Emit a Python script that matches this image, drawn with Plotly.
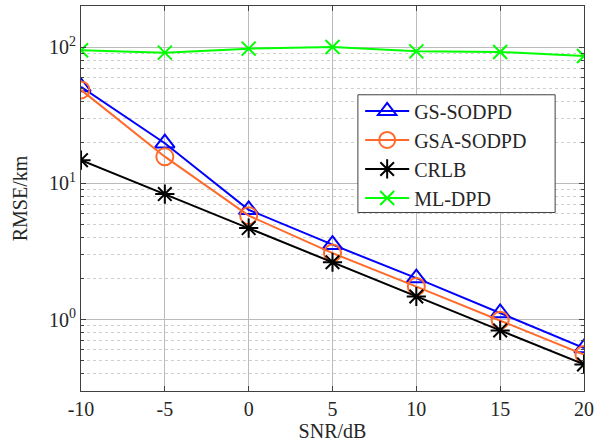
import numpy as np
import plotly.graph_objects as go

snr_db = [-10, -5, 0, 5, 10, 15, 20]
gs_sodpd = [51.0, 19.7, 6.4, 3.55, 2.02, 1.12, 0.62]
gsa_sodpd = [48.5, 15.7, 5.8, 3.08, 1.75, 0.99, 0.555]
crlb = [14.8, 8.35, 4.7, 2.64, 1.48, 0.835, 0.47]
ml_dpd = [94.6, 91.0, 97.3, 100.0, 93.0, 92.0, 86.0]

x_ticks = [-10, -5, 0, 5, 10, 15, 20]
x_ticktext = ["-10", "-5", "0", "5", "10", "15", "20"]
y_ticks = [1, 10, 100]
y_ticktext = ["10<sup>0</sup>", "10<sup>1</sup>", "10<sup>2</sup>"]

FONT = "Liberation Serif"
TEXT_COLOR = "#262626"

series = [
    ("GS-SODPD", gs_sodpd, "#0000FF", "triangle-up-open", 17),
    ("GSA-SODPD", gsa_sodpd, "#FF6A2A", "circle-open", 17),
    ("CRLB", crlb, "#000000", "asterisk-open", 16),
    ("ML-DPD", ml_dpd, "#00FF00", "x-thin-open", 14),
]

fig = go.Figure()
for name, vals, color, symbol, size in series:
    fig.add_trace(go.Scatter(
        x=snr_db, y=vals, name=name, mode="lines+markers",
        line=dict(color=color, width=2),
        marker=dict(symbol=symbol, size=size, color=color,
                    line=dict(color=color, width=2)),
    ))

axis_common = dict(
    showline=True, linecolor="#404040", linewidth=1, mirror="allticks",
    ticks="inside", ticklen=5, tickcolor="#404040",
    gridcolor="#BBBBBB", gridwidth=1, zeroline=False,
    tickfont=dict(family=FONT, size=20, color=TEXT_COLOR),
)

fig.update_xaxes(
    range=[-10, 20], tickvals=x_ticks, ticktext=x_ticktext,
    title=dict(text="SNR/dB", font=dict(family=FONT, size=20, color=TEXT_COLOR), standoff=4),
    **axis_common,
)
fig.update_yaxes(
    type="log", range=[np.log10(0.3), np.log10(200)],
    tickvals=y_ticks, ticktext=y_ticktext,
    title=dict(text="RMSE/km", font=dict(family=FONT, size=20, color=TEXT_COLOR), standoff=16),
    minor=dict(dtick="D1", showgrid=True, griddash="dot", gridcolor="#CFCFCF",
               gridwidth=1, ticks="inside", ticklen=3, tickcolor="#404040"),
    **axis_common,
)

# white legend frame drawn as a shape so its padding can be set freely
fig.add_shape(
    type="rect", xref="paper", yref="paper",
    x0=0.5505, x1=0.9426, y0=0.4637, y1=0.7694,
    fillcolor="white", line=dict(color="#404040", width=1), layer="above",
)

fig.update_layout(
    width=599, height=446,
    margin=dict(l=81, r=13, t=5, b=55),
    paper_bgcolor="white", plot_bgcolor="white",
    font=dict(family=FONT, size=20, color=TEXT_COLOR),
    showlegend=True,
    legend=dict(
        x=0.555, y=0.778, xanchor="left", yanchor="top",
        bgcolor="rgba(0,0,0,0)", borderwidth=0,
        font=dict(family=FONT, size=20, color=TEXT_COLOR),
        tracegroupgap=0, itemwidth=44,
    ),
)

fig.write_html("out.html")
